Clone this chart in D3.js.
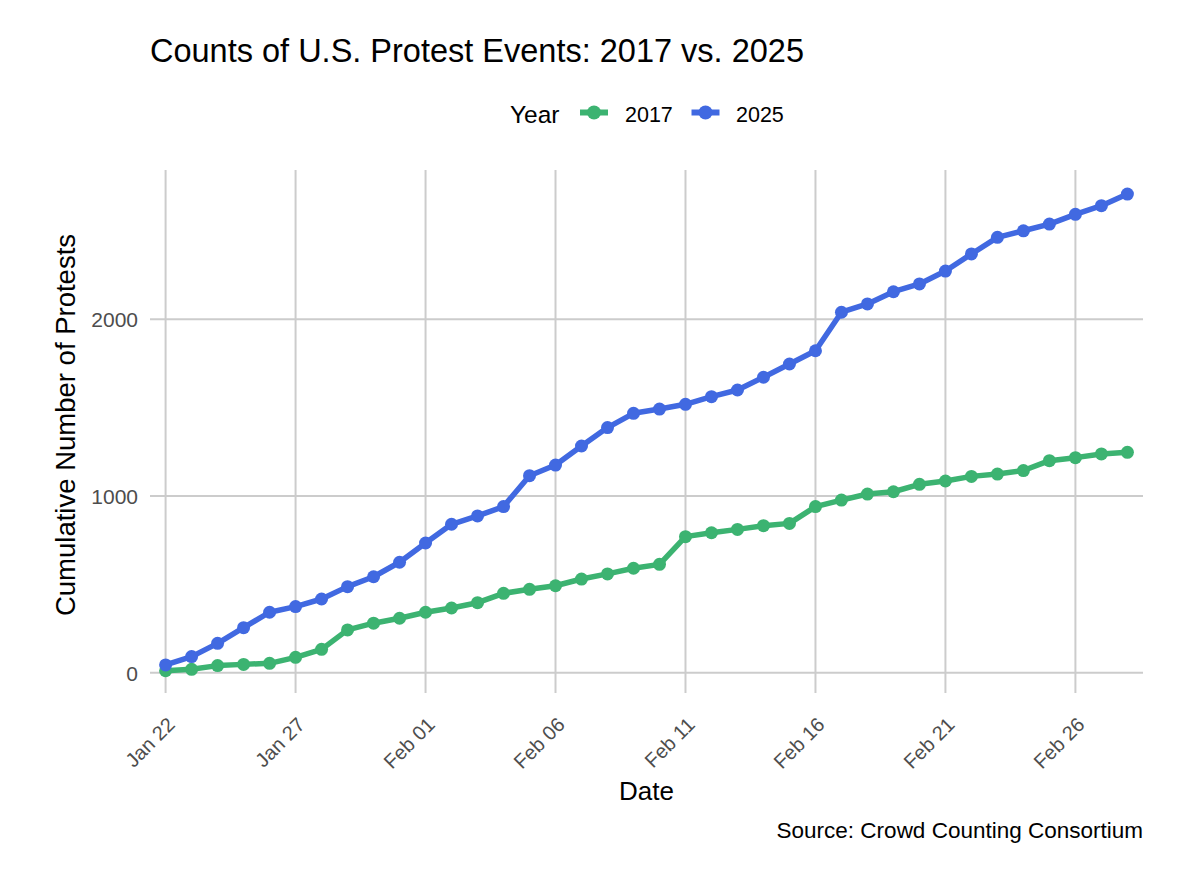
<!DOCTYPE html>
<html><head><meta charset="utf-8">
<script src="https://cdn.jsdelivr.net/npm/d3@7"></script>
<style>
html,body{margin:0;padding:0;background:#fff;}
text{font-family:"Liberation Sans",Arial,sans-serif;}
</style></head>
<body><svg id="c" width="1200" height="886"></svg>
<script>
const dates = ["2025-01-22","2025-01-23","2025-01-24","2025-01-25","2025-01-26","2025-01-27","2025-01-28","2025-01-29","2025-01-30","2025-01-31",
"2025-02-01","2025-02-02","2025-02-03","2025-02-04","2025-02-05","2025-02-06","2025-02-07","2025-02-08","2025-02-09","2025-02-10",
"2025-02-11","2025-02-12","2025-02-13","2025-02-14","2025-02-15","2025-02-16","2025-02-17","2025-02-18","2025-02-19","2025-02-20",
"2025-02-21","2025-02-22","2025-02-23","2025-02-24","2025-02-25","2025-02-26","2025-02-27","2025-02-28"];
const values2017 = [11,19,40,47,53,87,132,242,280,308,342,366,396,449,472,492,530,559,591,613,770,792,811,832,845,940,977,1011,1024,1066,1085,1111,1124,1144,1200,1217,1238,1247];
const values2025 = [44,91,166,255,342,374,417,487,543,625,734,840,887,940,1115,1175,1283,1387,1468,1492,1519,1562,1600,1672,1747,1822,2040,2087,2156,2200,2273,2370,2464,2501,2539,2594,2643,2709];
const xTicks = ["2025-01-22","2025-01-27","2025-02-01","2025-02-06","2025-02-11","2025-02-16","2025-02-21","2025-02-26"];
const yTicks = [0,1000,2000];
const seriesNames = ["2017","2025"];
const seriesColors = ["#3CB371","#4169E1"];

const parse = d3.utcParse("%Y-%m-%d");
const fmt = d3.utcFormat("%b %d");
const series = [values2017, values2025].map((vals,i)=>({name:seriesNames[i], color:seriesColors[i], pts: vals.map((v,j)=>({d:parse(dates[j]), v}))}));

const svg = d3.select("#c");
const L=150, R=1143, T=170, B=693;
const d0 = parse(dates[0]), d1 = parse(dates[dates.length-1]);
const pad = 0.6*86400000;
const x = d3.scaleUtc().domain([new Date(+d0 - pad), new Date(+d1 + pad)]).range([L,R]);
const y = d3.scaleLinear().domain([-115, 2845]).range([B,T]);

const grid = svg.append("g");
grid.selectAll("line.h").data(yTicks).join("line").attr("x1",L).attr("x2",R)
  .attr("y1",d=>y(d)).attr("y2",d=>y(d)).attr("stroke","#cccccc").attr("stroke-width",2);
grid.selectAll("line.v").data(xTicks).join("line").attr("y1",T).attr("y2",B)
  .attr("x1",d=>x(parse(d))).attr("x2",d=>x(parse(d))).attr("stroke","#cccccc").attr("stroke-width",2);

// y axis labels
const yAxis = d3.axisLeft(y).tickValues(yTicks).tickSize(0).tickPadding(0).tickFormat(d3.format("d"));
const ya = svg.append("g").attr("transform",`translate(138,0)`).call(yAxis);
ya.select(".domain").remove();
ya.selectAll("text").attr("fill","#4d4d4d").style("font-size","21px").style("font-family","Liberation Sans, Arial, sans-serif").attr("dy","0.36em");

// x axis labels
const xAxis = d3.axisBottom(x).tickValues(xTicks.map(parse)).tickSize(0).tickFormat(fmt);
const xa = svg.append("g").attr("transform",`translate(0,${B})`).call(xAxis);
xa.select(".domain").remove();
xa.selectAll("text").attr("fill","#4d4d4d").style("font-size","20px").style("font-family","Liberation Sans, Arial, sans-serif")
  .attr("text-anchor","end").attr("dy",null).attr("y",0).attr("x",0)
  .attr("transform","translate(10,33) rotate(-45)");

// lines
const line = d3.line().x(p=>x(p.d)).y(p=>y(p.v));
series.forEach(s=>{
  svg.append("path").datum(s.pts).attr("d",line).attr("fill","none").attr("stroke",s.color).attr("stroke-width",5.5).attr("stroke-linejoin","round");
});
series.forEach(s=>{
  svg.append("g").selectAll("circle").data(s.pts).join("circle").attr("cx",p=>x(p.d)).attr("cy",p=>y(p.v)).attr("r",6.5).attr("fill",s.color);
});

// title
svg.append("text").attr("x",150).attr("y",62).text("Counts of U.S. Protest Events: 2017 vs. 2025").style("font-size","32.5px").attr("fill","#000");
// legend
const lg = svg.append("g");
lg.append("text").attr("x",510).attr("y",122.5).text("Year").style("font-size","24.5px").attr("fill","#000");
const lx = [580, 691.5];
const lt = [625, 736];
series.forEach((s,i)=>{
  lg.append("line").attr("x1",lx[i]).attr("x2",lx[i]+28).attr("y1",112.5).attr("y2",112.5).attr("stroke",s.color).attr("stroke-width",6);
  lg.append("circle").attr("cx",lx[i]+14).attr("cy",112.5).attr("r",7).attr("fill",s.color);
  lg.append("text").attr("x",lt[i]).attr("y",122).text(s.name).style("font-size","21.5px").attr("fill","#000");
});
// axis titles
svg.append("text").attr("x",(L+R)/2).attr("y",800).attr("text-anchor","middle").text("Date").style("font-size","26px").attr("fill","#000");
svg.append("text").attr("transform",`translate(75,425) rotate(-90)`).attr("text-anchor","middle").text("Cumulative Number of Protests").style("font-size","27.5px").attr("fill","#000");
// caption
svg.append("text").attr("x",R).attr("y",838).attr("text-anchor","end").text("Source: Crowd Counting Consortium").style("font-size","22.5px").attr("fill","#000");
</script></body></html>
